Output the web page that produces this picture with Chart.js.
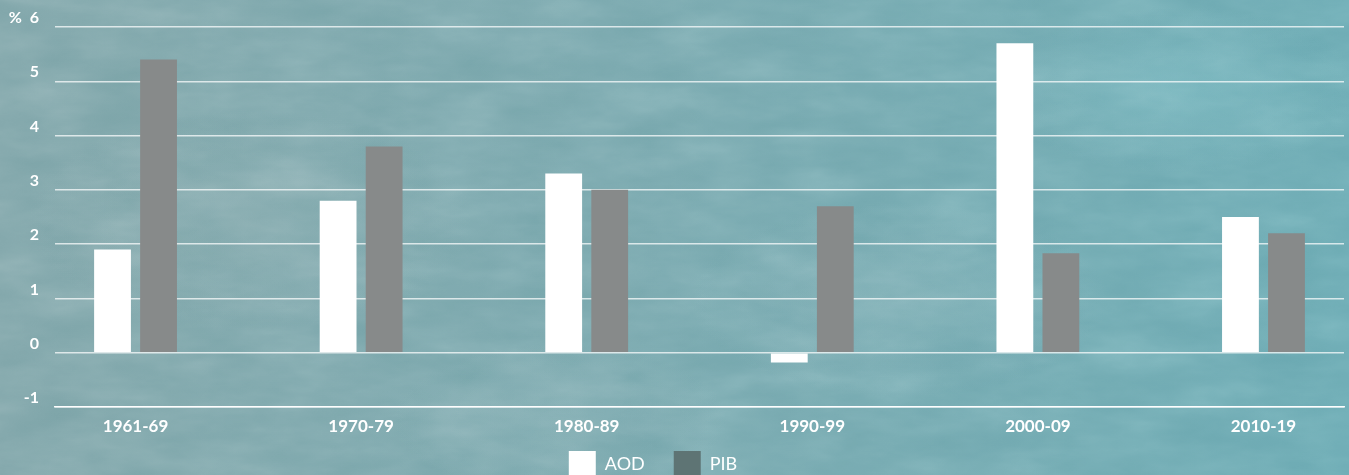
<!DOCTYPE html>
<html>
<head>
<meta charset="utf-8">
<script src="https://cdn.jsdelivr.net/npm/chart.js@4.4.1/dist/chart.umd.min.js"></script>
<style>
  html, body { margin: 0; padding: 0; width: 1349px; height: 475px; overflow: hidden; }
  #wrap {
    position: relative; width: 1349px; height: 475px; overflow: hidden;
    background:
      radial-gradient(ellipse 260px 120px at 1180px 90px, rgba(140,205,212,0.35), rgba(140,205,212,0) 70%),
      radial-gradient(ellipse 300px 140px at 900px 300px, rgba(150,190,195,0.30), rgba(150,190,195,0) 70%),
      radial-gradient(ellipse 320px 160px at 250px 220px, rgba(150,180,182,0.30), rgba(150,180,182,0) 70%),
      radial-gradient(ellipse 240px 110px at 560px 420px, rgba(160,195,198,0.25), rgba(160,195,198,0) 70%),
      linear-gradient(90deg, #7fa5a9 0%, #78a7ad 45%, #6baab3 100%);
  }
  /* mottled paper texture over the teal backdrop */
  #grain {
    position: absolute; left: 0; top: 0; width: 1349px; height: 475px; opacity: 0.3;
    mix-blend-mode: overlay;
    background-image: url("data:image/svg+xml;utf8,<svg xmlns='http://www.w3.org/2000/svg' width='1349' height='475'><filter id='n'><feTurbulence type='fractalNoise' baseFrequency='0.012 0.035' numOctaves='4' seed='7'/><feColorMatrix type='saturate' values='0'/></filter><rect width='100%' height='100%' filter='url(%23n)'/></svg>");
  }
  #box { position: absolute; left: 0; top: 0; width: 1349px; height: 521px; }
</style>
</head>
<body>
<div id="wrap"><div id="grain"></div><div id="box"><canvas id="c"></canvas></div></div>
<script>
// Growth of official development assistance (AOD) and GDP (PIB), average per decade, %
const periods = ['1961-69', '1970-79', '1980-89', '1990-99', '2000-09', '2010-19'];
const aod = [1.9, 2.8, 3.3, -0.18, 5.7, 2.5];
const pib = [5.4, 3.8, 3.0, 2.7, 1.83, 2.2];
const yTicks = [-1, 0, 1, 2, 3, 4, 5, 6];

const AOD_COLOR = '#ffffff';
const PIB_COLOR = '#878a8a';
const PIB_LEGEND_COLOR = '#5e7474';

const toPoints = arr => arr.map((v, i) => ({ x: i, y: v }));

// move the legend row up under the period labels and a little to the left
const legendShift = {
  id: 'legendShift',
  afterUpdate(chart) {
    const lg = chart.legend;
    if (lg) { lg.left -= 38; lg.top -= 21; lg.bottom -= 21; }
  }
};

new Chart(document.getElementById('c'), {
  type: 'bar',
  data: {
    datasets: [
      { label: 'AOD', data: toPoints(aod), backgroundColor: AOD_COLOR,
        categoryPercentage: 0.408, barPercentage: 0.8 },
      { label: 'PIB', data: toPoints(pib), backgroundColor: PIB_COLOR,
        categoryPercentage: 0.408, barPercentage: 0.8 }
    ]
  },
  plugins: [legendShift],
  options: {
    responsive: true,
    maintainAspectRatio: false,
    animation: false,
    layout: { padding: { top: 27, right: 5, bottom: 12, left: 0 } },
    plugins: {
      tooltip: { enabled: false },
      legend: {
        position: 'bottom',
        labels: {
          color: '#ffffff',
          font: { family: 'Lato', size: 18, weight: 'normal' },
          boxWidth: 27,
          boxHeight: 27,
          padding: 29,
          generateLabels(chart) {
            const items = Chart.defaults.plugins.legend.labels.generateLabels(chart);
            items.forEach(it => {
              if (it.text === 'PIB') it.fillStyle = PIB_LEGEND_COLOR;
              it.lineWidth = 0;
              it.strokeStyle = 'rgba(0,0,0,0)';
            });
            return items;
          }
        }
      }
    },
    scales: {
      x: {
        type: 'linear',
        offset: false,
        min: -0.357,
        max: 5.357,
        afterBuildTicks(scale) { scale.ticks = periods.map((_, i) => ({ value: i })); },
        afterFit(scale) { scale.height = 36; },
        grid: { display: false, drawTicks: false },
        border: { display: true, color: 'rgba(255,255,255,0.95)', width: 1.5 },
        ticks: {
          color: '#ffffff',
          font: { family: 'Lato', size: 17, weight: 'bold' },
          padding: 9,
          maxRotation: 0,
          autoSkip: false,
          callback: v => periods[v]
        }
      },
      y: {
        min: -1,
        max: 6,
        afterBuildTicks(scale) { scale.ticks = yTicks.map(v => ({ value: v })); },
        afterFit(scale) { scale.width = 55; },
        grid: { color: 'rgba(255,255,255,0.72)', lineWidth: 1.5, drawTicks: false },
        border: { display: false },
        ticks: {
          color: '#ffffff',
          font: { family: 'Lato', size: 16, weight: 'bold' },
          padding: 16,
          labelOffset: -9,
          callback: v => (v === 6 ? '%  6' : String(v))
        }
      }
    }
  }
});
</script>
</body>
</html>
